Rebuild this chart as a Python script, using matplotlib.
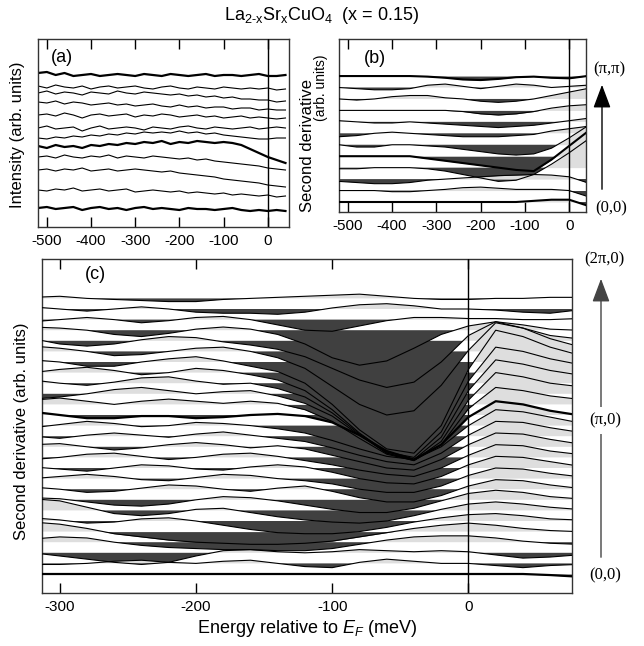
import numpy as np
import matplotlib
matplotlib.use("Agg")
import matplotlib.pyplot as plt

plt.rcParams['font.family'] = ['Liberation Sans', 'DejaVu Sans']
plt.rcParams['mathtext.fontset'] = 'custom'
plt.rcParams['mathtext.rm'] = 'Liberation Sans'
plt.rcParams['mathtext.it'] = 'Liberation Sans:italic'
plt.rcParams['axes.unicode_minus'] = False

DARK = '#404040'
LIGHT = '#dedede'

# ---------------- panel (a): EDCs, offset intensity ----------------
e_a = np.arange(-520, 41, 20)
a_levels = [152, 140, 134, 124, 112, 99, 89, 80, 70, 57, 37, 19]
a_thick = [0, 7, 11]
a_traces = [
    [2, 3, 0, 2, -1, 0, 1, -1, 0, 1, 0, -1, 1, 0, -1, 1, 0, -1, 0, 1, -1, 0, 0, -1, 0, 1, -1, -1, 0],
    [1, -1, 2, 0, -1, 1, -2, 0, 1, -1, 0, 1, -1, -2, 0, 1, -1, -2, 0, -1, -2, 0, -1, -2, -1, -2, -1, -3, -2],
    [0, 2, -1, 1, 0, -2, 1, 0, -1, 2, 0, -1, 1, 0, -1, -2, -1, -3, -2, -4, -3, -5, -4, -6, -6, -7, -7, -9, -8],
    [1, 0, 2, -1, 1, 0, -2, -1, 0, -2, -1, -3, -2, -1, -3, -4, -2, -4, -3, -5, -4, -4, -6, -5, -5, -7, -6, -7, -7],
    [0, 1, -1, 2, 0, -3, 0, 1, -1, 0, 1, -2, 0, -1, 1, 0, -2, -1, 0, -2, -1, -3, -2, -1, -3, -2, -3, -4, -3],
    [0, 2, -1, 0, 1, -3, 0, 2, -1, 0, 1, 0, -2, 1, 0, -1, 1, 2, 0, -1, 1, 0, -1, 0, 1, -1, 0, 1, 0],
    [0, -1, 1, 0, 2, 1, 3, 2, 4, 3, 5, 4, 6, 5, 6, 5, 7, 5, 6, 4, 5, 3, 2, 1, 0, -1, -1, 0, 0],
    [1, -1, 2, 0, 1, -1, 2, 1, 3, 2, 4, 3, 5, 4, 6, 3, 5, 4, 6, 5, 4, 5, 4, 2, -2, -6, -10, -13, -16],
    [0, 1, -1, 2, 0, -1, 1, 0, 2, -1, 1, 0, -1, 1, 0, -1, -2, -1, -3, -2, -4, -5, -6, -7, -8, -9, -11, -12, -13],
    [0, 1, -1, 1, 0, 2, -1, 0, 1, -1, 0, 1, 0, -1, -2, -1, -3, -4, -5, -6, -7, -9, -10, -11, -12, -13, -15, -16, -17],
    [0, -1, 1, 0, 2, -1, 0, 1, -1, 0, 1, -2, -1, 0, -1, -2, -1, -3, -2, -3, -4, -3, -5, -4, -5, -6, -5, -7, -6],
    [0, 1, -1, 0, 1, -2, 0, 1, -1, 0, -2, 0, 1, -1, 0, -1, -2, 0, -1, -1, -2, -1, 0, -2, -3, -2, -3, -2, -3],
]

# ---------------- panel (b): second derivative (0,0)->(pi,pi) ----------------
e_b = np.arange(-520, 41, 40)
b_thick = [0, 4, 11]
b_traces = [
    [0, 0, 0, 0, 0, 0, 0, 0, 0, 0, 0, 0.1, 0.2, 0.2, -0.3],
    [0, 0, 0, -0.1, -0.1, 0, 0.1, 0.25, 0.3, 0.2, 0.1, 0.1, 0.1, 0.0, -0.5],
    [-0.2, -0.3, -0.4, -0.4, -0.3, -0.1, 0.0, 0.1, 0.2, 0.3, 0.35, 0.4, 0.35, 0.2, -0.3],
    [-0.1, -0.1, 0.0, 0.0, 0.0, -0.1, -0.3, -0.6, -0.9, -1.2, -1.1, -0.6, 0.3, 1.3, 2.4],
    [0.0, 0.0, 0.0, 0.0, 0.0, -0.2, -0.4, -0.6, -0.8, -1.0, -1.2, -1.3, -0.3, 0.9, 2.1],
    [0.0, -0.2, -0.2, 0.0, 0.0, -0.1, -0.2, -0.4, -0.6, -0.8, -0.9, -0.8, -0.3, 0.6, 1.6],
    [-0.3, -0.2, 0.0, 0.1, 0.0, -0.1, -0.2, -0.3, -0.3, -0.3, -0.2, -0.1, 0.2, 0.4, 0.6],
    [0.1, 0.0, -0.1, -0.1, 0.0, -0.1, -0.2, -0.3, -0.4, -0.5, -0.4, -0.3, -0.1, 0.1, 0.3],
    [0.0, 0.0, 0.0, 0.0, 0.0, 0.0, 0.0, -0.1, -0.3, -0.4, -0.3, -0.1, 0.2, 0.4, 0.5],
    [0.0, -0.1, 0.0, 0.2, 0.3, 0.3, 0.1, 0.0, -0.2, -0.3, -0.2, 0.0, 0.3, 0.6, 0.9],
    [0, -0.1, -0.2, -0.2, -0.1, 0.2, 0.3, 0.1, -0.1, 0.1, 0.3, 0.2, 0.0, 0.1, 0.2],
    [0, 0, 0, 0, 0, -0.05, -0.15, -0.3, -0.35, -0.25, -0.1, -0.05, -0.15, -0.2, 0.0],
]

# ---------------- panel (c): second derivative (0,0)->(2pi,0) ----------------
e_c = np.arange(-320, 81, 20)
c_thick = [0, 15]
c_traces = [
    [0, 0, 0, 0, 0, 0, 0, 0, 0, 0, 0, 0, 0, 0, 0, 0, 0, 0, 0, -0.1, -0.25],
    [-0.1, -0.1, 0.0, 0.2, 0.3, 0.1, 0.0, 0.2, 0.3, 0.0, -0.3, -0.4, 0.1, 0.4, 0.2, 0.0, 0.0, -0.2, -0.4, -0.2, -0.1],
    [0.0, -0.3, -0.6, -0.9, -1.1, -0.9, -0.3, 0.2, 0.3, 0.1, 0.0, 0.1, 0.3, 0.2, 0.1, 0.2, 0.1, -0.2, -0.5, -0.4, -0.2],
    [0.3, 0.5, 0.4, 0.0, -0.3, -0.5, -0.6, -0.7, -0.7, -0.8, -0.8, -0.6, -0.2, 0.2, 0.5, 0.6, 0.6, 0.4, 0.1, -0.1, -0.2],
    [0.9, 0.7, 0.3, -0.2, -0.5, -0.8, -1.0, -1.1, -1.2, -1.2, -1.1, -0.9, -0.5, -0.1, 0.3, 0.6, 0.8, 0.6, 0.3, 0.1, 0.0],
    [0.3, 0.1, -0.2, -0.1, 0.2, 0.3, 0.0, -0.4, -0.8, -1.1, -1.2, -1.2, -1.0, -0.6, -0.1, 0.3, 0.6, 0.7, 0.5, 0.2, 0.1],
    [1.1, 0.9, 0.3, -0.3, -0.5, -0.3, 0.1, 0.2, -0.2, -0.6, -0.9, -1.1, -1.2, -1.0, -0.5, 0.1, 0.6, 0.8, 0.6, 0.3, 0.1],
    [0.2, 0.1, -0.2, -0.5, -0.6, -0.4, 0.0, 0.3, 0.2, -0.1, -0.5, -0.9, -1.2, -1.2, -0.8, -0.1, 0.6, 0.9, 0.7, 0.3, 0.1],
    [0.2, 0.0, -0.3, -0.2, 0.1, 0.4, 0.3, 0.0, -0.2, 0.1, 0.3, -0.2, -0.8, -1.2, -1.2, -0.6, 0.3, 0.9, 0.8, 0.4, 0.1],
    [0.0, 0.2, 0.4, 0.2, -0.1, -0.2, 0.1, 0.4, 0.3, 0.0, -0.2, -0.5, -1.0, -1.3, -1.3, -0.7, 0.3, 1.0, 0.9, 0.5, 0.2],
    [0.1, -0.1, -0.3, 0.0, 0.3, 0.2, -0.1, -0.2, 0.1, 0.3, 0.1, -0.4, -1.0, -1.4, -1.5, -0.8, 0.3, 1.1, 1.0, 0.6, 0.2],
    [-0.2, 0.0, 0.3, 0.4, 0.1, -0.2, 0.0, 0.3, 0.4, 0.1, -0.3, -0.7, -1.2, -1.6, -1.8, -1.0, 0.2, 1.2, 1.1, 0.6, 0.3],
    [0.2, 0.3, 0.0, -0.3, -0.1, 0.2, 0.4, 0.2, -0.1, 0.1, -0.2, -0.8, -1.4, -2.0, -2.2, -1.2, 0.2, 1.3, 1.2, 0.7, 0.3],
    [0.0, -0.2, 0.1, 0.3, 0.1, -0.1, 0.2, 0.4, 0.1, -0.2, -0.5, -1.1, -1.8, -2.4, -2.7, -1.6, 0.1, 1.4, 1.3, 0.8, 0.4],
    [-0.2, 0.1, 0.4, 0.2, -0.1, 0.0, 0.3, 0.2, 0.0, -0.3, -0.7, -1.4, -2.2, -2.9, -3.2, -2.0, 0.0, 1.5, 1.3, 0.8, 0.3],
    [0.3, 0.0, -0.3, -0.3, -0.1, -0.1, -0.3, -0.2, 0.0, 0.1, -0.1, -0.7, -1.9, -3.4, -4.2, -2.8, -0.2, 1.3, 1.0, 0.4, 0.0],
    [0.4, 0.6, 0.3, 0.0, 0.3, 0.5, 0.3, 0.1, 0.3, 0.1, -0.5, -1.6, -3.2, -4.7, -5.3, -3.8, -0.4, 1.6, 1.3, 0.8, 0.5],
    [-0.5, -0.3, 0.0, 0.4, 0.6, 0.3, 0.0, 0.2, 0.3, -0.2, -0.9, -2.1, -3.9, -5.6, -6.3, -4.5, -0.6, 2.0, 1.6, 1.0, 0.7],
    [0.3, 0.0, -0.2, 0.1, 0.5, 0.6, 0.2, -0.1, 0.0, -0.5, -1.3, -2.8, -4.8, -6.6, -7.2, -5.1, -0.7, 2.2, 1.8, 1.2, 0.8],
    [0.0, 0.3, 0.5, 0.2, -0.2, 0.0, 0.4, 0.2, -0.2, -0.7, -1.7, -3.5, -5.7, -7.5, -8.0, -5.6, -0.8, 2.4, 2.0, 1.3, 0.8],
    [0.2, 0.0, -0.4, -0.4, 0.0, 0.3, 0.5, 0.1, -0.4, -0.9, -2.0, -4.0, -6.4, -8.2, -8.6, -6.0, -0.7, 3.0, 2.4, 1.4, 0.7],
    [0.5, 0.3, 0.0, -0.4, -0.3, 0.0, 0.3, 0.4, 0.0, -0.6, -1.6, -3.3, -5.0, -6.0, -5.6, -3.2, 0.1, 2.7, 2.2, 1.2, 0.5],
    [0.2, -0.3, -0.5, -0.3, 0.1, 0.4, 0.3, -0.1, -0.4, -0.8, -1.5, -2.6, -3.7, -4.4, -3.9, -2.0, 0.5, 1.8, 1.2, 0.5, 0.2],
    [0.3, 0.2, 0.0, -0.4, -0.6, -0.3, 0.1, 0.3, 0.1, -0.4, -1.3, -2.6, -3.3, -2.9, -1.7, -0.4, 0.4, 0.8, 0.5, 0.1, 0.0],
    [-0.2, 0.0, 0.2, 0.0, -0.3, -0.1, 0.2, 0.3, 0.0, -0.5, -1.0, -1.1, -0.6, -0.1, 0.2, 0.2, 0.1, 0.1, 0.0, 0.0, 0.1],
    [0.2, 0.0, -0.2, 0.0, 0.2, 0.0, -0.3, -0.4, -0.4, -0.5, -0.3, 0.1, 0.4, 0.5, 0.3, 0.0, 0.0, -0.1, -0.3, -0.4, -0.1],
    [0.1, 0.2, 0.0, -0.1, -0.2, -0.3, -0.3, -0.1, 0.0, 0.1, 0.2, 0.3, 0.4, 0.2, 0.0, -0.1, -0.1, 0.0, 0.0, 0.1, 0.1],
]


def fx(px):
    return px / 644.0


def fy(py):
    return 1 - py / 646.0


def style_axis(ax, ticks, xlim, ylim):
    ax.set_xlim(*xlim)
    ax.set_ylim(*ylim)
    ax.set_xticks(ticks)
    ax.set_yticks([])
    ax.tick_params(axis='x', direction='in', top=True, length=7.5, width=1,
                   labelsize=11, pad=5)
    for s in ax.spines.values():
        s.set_color('#333333')
        s.set_linewidth(1)
    ax.axvline(0, color='k', lw=1, zorder=12)


def wiggle(ax, x, base, vals, lw, z):
    vals = np.asarray(vals, dtype=float)
    y = base + vals
    ax.fill_between(x, base, y, where=vals < 0, interpolate=True,
                    color=DARK, lw=0, zorder=z)
    ax.fill_between(x, base, y, where=vals > 0, interpolate=True,
                    color=LIGHT, lw=0, zorder=z)
    ax.plot(x, y, color='k', lw=lw, zorder=10)


fig = plt.figure(figsize=(6.44, 6.46), dpi=100)

# (a)
ax_a = fig.add_axes([fx(38), fy(227), fx(289) - fx(38), fy(39) - fy(227)])
for i, tr in enumerate(a_traces):
    lw = 1.6 if i in a_thick else 0.8
    ax_a.plot(e_a, a_levels[i] + np.array(tr), color='k', lw=lw)
style_axis(ax_a, np.arange(-500, 1, 100), (-520, 48), (0, 188))
ax_a.text(0.05, 0.90, '(a)', transform=ax_a.transAxes, fontsize=13,
          va='center')

# (b)
sp_b = 11.45
ax_b = fig.add_axes([fx(339), fy(212), fx(586) - fx(339), fy(39) - fy(212)])
for k in range(len(b_traces) - 1, -1, -1):
    lw = 1.5 if k in b_thick else 0.8
    wiggle(ax_b, e_b, k, b_traces[k], lw, 2 + (11 - k) * 0.01)
style_axis(ax_b, np.arange(-500, 1, 100), (-520, 38),
           ((202 - 212) / sp_b, (202 - 39) / sp_b))
ax_b.text(0.1, 0.89, '(b)', transform=ax_b.transAxes, fontsize=13,
          va='center')

# (c)
sp_c = 10.6
ax_c = fig.add_axes([fx(42), fy(593), fx(572) - fx(42), fy(259) - fy(593)])
n_c = len(c_traces)
for k in range(n_c - 1, -1, -1):
    lw = 1.6 if k in c_thick else 0.8
    wiggle(ax_c, e_c, k, c_traces[k], lw, 2 + (n_c - k) * 0.01)
style_axis(ax_c, np.arange(-300, 1, 100), (-313, 76),
           ((574 - 593) / sp_c, (574 - 259) / sp_c))
ax_c.text(0.08, 0.955, '(c)', transform=ax_c.transAxes, fontsize=13,
          va='center')
ax_c.set_xlabel('Energy relative to $E_F$ (meV)', fontsize=13, labelpad=3)

# labels
fig.text(fx(322), fy(16), 'La$_{\\mathrm{2\u2010x}}$Sr$_{\\mathrm{x}}$CuO$_{\\mathrm{4}}$  (x = 0.15)',
         ha='center', va='center', fontsize=13)
fig.text(fx(18), fy(135), 'Intensity (arb. units)', rotation=90,
         ha='center', va='center', fontsize=12)
fig.text(fx(307), fy(146), 'Second derivative', rotation=90,
         ha='center', va='center', fontsize=12)
fig.text(fx(321), fy(88), '(arb. units)', rotation=90,
         ha='center', va='center', fontsize=10)
fig.text(fx(22), fy(431), 'Second derivative (arb. units)', rotation=90,
         ha='center', va='center', fontsize=12)

serif = ['Liberation Serif', 'DejaVu Serif']
fig.text(fx(609), fy(69), '(π,π)', ha='center', va='center', fontsize=12,
         family=serif)
fig.text(fx(611), fy(208), '(0,0)', ha='center', va='center', fontsize=12,
         family=serif)
fig.text(fx(604), fy(259), '(2π,0)', ha='center', va='center', fontsize=12,
         family=serif)
fig.text(fx(605), fy(575), '(0,0)', ha='center', va='center', fontsize=12,
         family=serif)

fig.patches.append(matplotlib.patches.FancyArrowPatch(
    (fx(602), fy(192)), (fx(602), fy(82)), transform=fig.transFigure,
    arrowstyle='-|>,head_length=1.2,head_width=0.45', mutation_scale=12,
    color='k', lw=1))
fig.patches.append(matplotlib.patches.FancyArrowPatch(
    (fx(601), fy(560)), (fx(601), fy(276)), transform=fig.transFigure,
    arrowstyle='-|>,head_length=1.2,head_width=0.45', mutation_scale=12,
    color='#444444', lw=1))
fig.text(fx(605), fy(420), '(π,0)', ha='center', va='center', fontsize=12,
         family=serif, bbox=dict(facecolor='white', edgecolor='none', pad=4))

fig.savefig('out.png', dpi=100)
